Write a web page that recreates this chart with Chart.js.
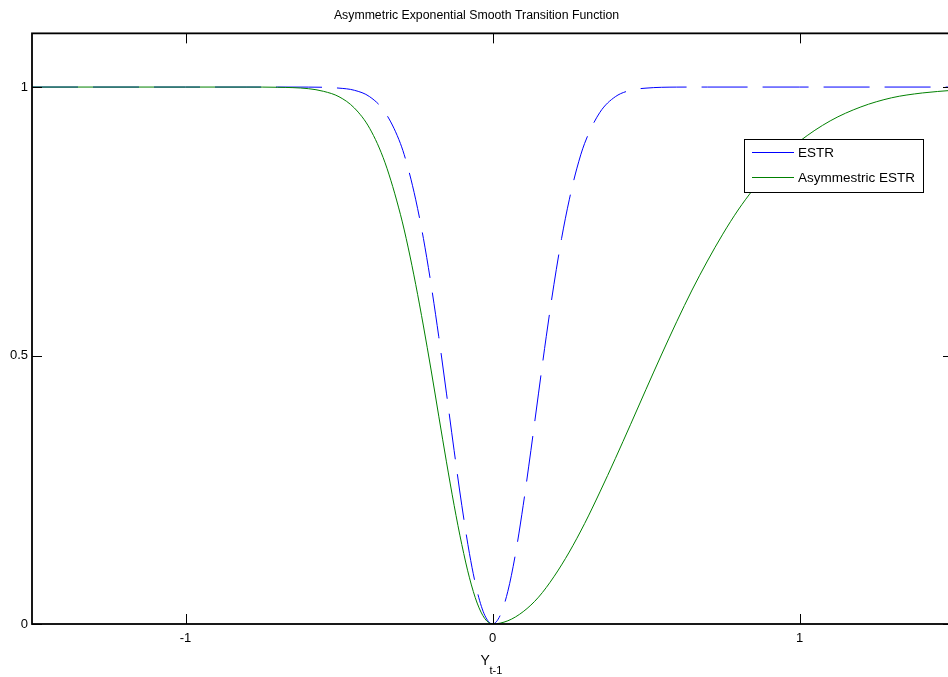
<!DOCTYPE html>
<html>
<head>
<meta charset="utf-8">
<script src="https://cdn.jsdelivr.net/npm/chart.js@4/dist/chart.umd.min.js"></script>
<style>
  html, body { margin: 0; padding: 0; background: #fff; overflow: hidden; }
  #wrap { width: 958px; height: 677px; }
</style>
</head>
<body>
<div id="wrap"><canvas id="c" width="958" height="677"></canvas></div>
<script>
// values
const estrX = [-1.5, -1.0, -0.7, -0.6, -0.5, -0.45, -0.4, -0.35, -0.3, -0.275, -0.25, -0.225, -0.2, -0.175, -0.15, -0.125, -0.1, -0.075, -0.05, -0.025,
               0, 0.025, 0.05, 0.075, 0.1, 0.125, 0.15, 0.175, 0.2, 0.225, 0.25, 0.275, 0.3, 0.35, 0.4, 0.45, 0.5, 0.6, 0.7, 1.0, 1.5]
const estrY = [1, 1, 1, 0.9999, 0.998, 0.994, 0.982, 0.953, 0.895, 0.849, 0.790, 0.718, 0.632, 0.535, 0.430, 0.323, 0.221, 0.131, 0.061, 0.016,
               0, 0.016, 0.061, 0.131, 0.221, 0.323, 0.430, 0.535, 0.632, 0.718, 0.790, 0.849, 0.895, 0.953, 0.982, 0.994, 0.998, 0.9999, 1, 1, 1]

const asymX = [-1.5, -1.0, -0.8, -0.7, -0.6, -0.55, -0.5, -0.45, -0.4, -0.35, -0.3, -0.275, -0.25, -0.225, -0.2, -0.175, -0.15, -0.125, -0.1, -0.075, -0.05, -0.025,
               0, 0.05, 0.1, 0.15, 0.2, 0.25, 0.3, 0.35, 0.4, 0.45, 0.5, 0.55, 0.6, 0.65, 0.7, 0.75, 0.8, 0.85, 0.9, 0.95, 1.0, 1.1, 1.2, 1.3, 1.4, 1.5]
const asymY = [1, 1, 1, 0.9996, 0.997, 0.992, 0.982, 0.961, 0.923, 0.859, 0.763, 0.702, 0.632, 0.555, 0.473, 0.387, 0.302, 0.221, 0.148, 0.086, 0.039, 0.010,
               0, 0.006, 0.023, 0.050, 0.088, 0.134, 0.187, 0.246, 0.308, 0.372, 0.437, 0.501, 0.563, 0.622, 0.676, 0.726, 0.771, 0.810, 0.845, 0.874, 0.899, 0.937, 0.963, 0.980, 0.989, 0.994]

const xTicks = [-1, 0, 1]
const yTicks = [0, 0.5, 1]
const seriesNames = ["ESTR", "Asymmestric ESTR"]
const titleText = "Asymmetric Exponential Smooth Transition Function"

const blue = "#0000ff"
const green = "#008000"
const fontFam = "'Liberation Sans', Arial, Helvetica, sans-serif"

function pts(xs, ys){
    let r = []
    for (let i = 0; i < xs.length; i++){ r.push({x: xs[i], y: ys[i]}) }
    return r
}

// frame, inward ticks, legend, x label
const matlabLook = {
    id: "matlabLook",
    afterDraw(chart){
        const ctx = chart.ctx
        const a = chart.chartArea
        const xs = chart.scales.x, ys = chart.scales.y
        ctx.save()
        ctx.strokeStyle = "#000"
        ctx.lineWidth = 1
        for (let v of xTicks){
            let p = Math.round(xs.getPixelForValue(v)) + 0.5
            ctx.beginPath()
            ctx.moveTo(p, a.bottom); ctx.lineTo(p, a.bottom - 10)
            ctx.moveTo(p, a.top); ctx.lineTo(p, a.top + 10)
            ctx.stroke()
        }
        for (let v of yTicks){
            let p = Math.round(ys.getPixelForValue(v)) + 0.5
            ctx.beginPath()
            ctx.moveTo(a.left, p); ctx.lineTo(a.left + 10, p)
            ctx.moveTo(a.right, p); ctx.lineTo(a.right - 10, p)
            ctx.stroke()
        }
        ctx.lineWidth = 1.8
        ctx.strokeRect(a.left, a.top, a.right - a.left, a.bottom - a.top)

        // legend
        let lx = 744, ly = 139, lw = 179, lh = 53
        ctx.fillStyle = "#fff"
        ctx.fillRect(lx, ly, lw, lh)
        ctx.lineWidth = 1
        ctx.strokeStyle = "#000"
        ctx.strokeRect(lx + 0.5, ly + 0.5, lw, lh)
        const cols = [blue, green]
        const rows = [152, 177]
        ctx.font = "13.5px " + fontFam
        ctx.textBaseline = "middle"
        ctx.textAlign = "left"
        for (let i = 0; i < 2; i++){
            ctx.strokeStyle = cols[i]
            ctx.beginPath()
            ctx.moveTo(752, rows[i] + 0.5); ctx.lineTo(794, rows[i] + 0.5)
            ctx.stroke()
            ctx.fillStyle = "#000"
            ctx.fillText(seriesNames[i], 798, rows[i] + 1)
        }

        // x axis label Y_{t-1}
        let cx = xs.getPixelForValue(0)
        ctx.textBaseline = "alphabetic"
        ctx.font = "14px " + fontFam
        ctx.fillText("Y", cx - 12, 665)
        ctx.font = "11px " + fontFam
        ctx.fillText("t-1", cx - 3, 674)
        ctx.restore()
    }
}

function fmt(v){ return String(v) }

const chart = new Chart(document.getElementById("c").getContext("2d"), {
    type: "line",
    data: {
        datasets: [
            {label: seriesNames[0], data: pts(estrX, estrY), borderColor: blue, borderWidth: 1,
             borderDash: [46, 15], pointRadius: 0, cubicInterpolationMode: "monotone", order: 2},
            {label: seriesNames[1], data: pts(asymX, asymY), borderColor: green, borderWidth: 1,
             pointRadius: 0, cubicInterpolationMode: "monotone", order: 1}
        ]
    },
    options: {
        responsive: false,
        animation: false,
        devicePixelRatio: 1,
        layout: {padding: {left: 0, right: 5, top: 0, bottom: 0}},
        plugins: {
            legend: {display: false},
            tooltip: {enabled: false},
            title: {display: true, text: titleText, color: "#000",
                    font: {family: fontFam, size: 12.3, weight: "normal", lineHeight: 1.2},
                    padding: {top: 8, bottom: 10.6}}
        },
        scales: {
            x: {type: "linear", min: -1.5, max: 1.5,
                grid: {display: false, drawTicks: false}, border: {display: false},
                ticks: {padding: 7, color: "#000", callback: fmt,
                        font: {family: fontFam, size: 13}},
                afterBuildTicks(s){ s.ticks = xTicks.map(v => ({value: v})) },
                afterFit(s){ s.height = 53 }},
            y: {min: 0, max: 1.1,
                grid: {display: false, drawTicks: false}, border: {display: false},
                ticks: {padding: 4, color: "#000", callback: fmt,
                        font: {family: fontFam, size: 13}},
                afterBuildTicks(s){ s.ticks = yTicks.map(v => ({value: v})) },
                afterFit(s){ s.width = 32 }}
        }
    },
    plugins: [matlabLook]
})
</script>
</body>
</html>
